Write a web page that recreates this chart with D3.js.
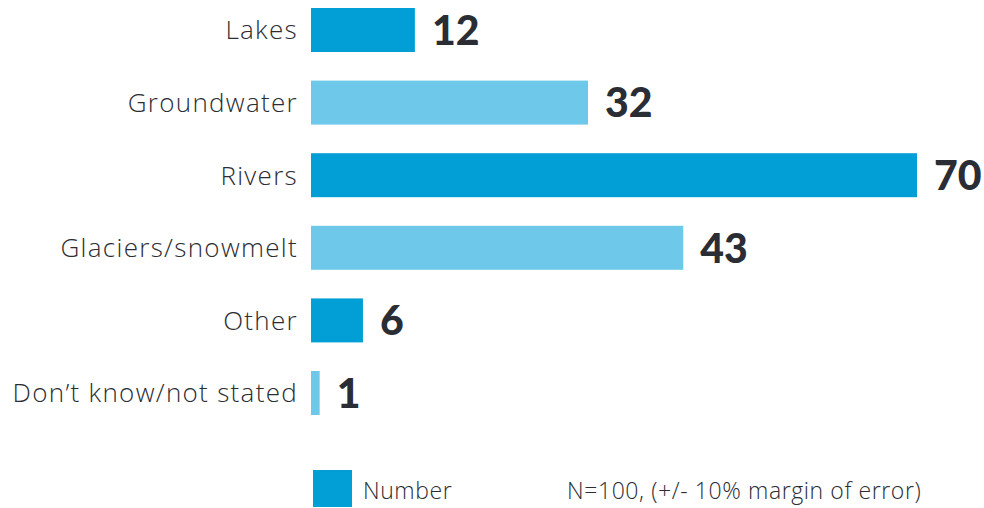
<!doctype html>
<html lang="en">
  <head>
    <meta charset="utf-8">
    <title>Water sources</title>
    <script src="https://d3js.org/d3.v7.min.js"></script>
    <style>
      body { margin: 0; background: #fff; }
      .label { font-family: 'Open Sans', sans-serif; font-weight: 300; font-size: 26px; letter-spacing: 1.3px; fill: #2b2d33; }
      .value { font-family: 'Lato', sans-serif; font-weight: 900; font-size: 41px; fill: #2a2d33; }
      .legend { font-family: 'Open Sans', sans-serif; font-weight: 300; font-size: 23px; letter-spacing: 0.6px; fill: #2b2d33; }
    </style>
  </head>
  <body>
    <div id="chart"></div>
  <script>
    const categories = ['Lakes', 'Groundwater', 'Rivers', 'Glaciers/snowmelt', 'Other', 'Don\u2019t know/not stated'];
    const values = [12, 32, 70, 43, 6, 1];
    const legendLabel = 'Number';
    const note = 'N=100, (+/- 10% margin of error)';

    const w = 984, h = 508;
    const dark = '#029fd7', light = '#6dc8ea';

    const svg = d3.select('#chart')
      .append('svg')
      .attr('width', w)
      .attr('height', h);

    const x = d3.scaleLinear()
      .domain([0, 70])
      .range([311, 917]);

    const y = d3.scaleBand()
      .domain(categories)
      .range([8, 415])
      .paddingInner(0.394)
      .paddingOuter(0);

    const data = categories.map((c, i) => ({ cat: c, val: values[i], i: i }));

    svg.selectAll('rect.bar')
      .data(data)
      .enter().append('rect')
      .attr('class', 'bar')
      .attr('x', x(0))
      .attr('y', d => y(d.cat))
      .attr('width', d => x(d.val) - x(0))
      .attr('height', y.bandwidth())
      .attr('fill', d => d.i % 2 === 0 ? dark : light);

    // category labels (letter-spacing adds a trailing gap, so nudge right)
    svg.selectAll('text.label')
      .data(data)
      .enter().append('text')
      .attr('class', 'label')
      .attr('x', x(0) - 13)
      .attr('y', d => y(d.cat) + y.bandwidth() / 2)
      .attr('dy', '0.36em')
      .attr('text-anchor', 'end')
      .text(d => d.cat);

    // value labels
    svg.selectAll('text.value')
      .data(data)
      .enter().append('text')
      .attr('class', 'value')
      .attr('x', d => x(d.val) + 17)
      .attr('y', d => y(d.cat) + y.bandwidth() / 2)
      .attr('dy', '0.36em')
      .text(d => d.val);

    // legend
    const lg = svg.append('g');
    lg.append('rect')
      .attr('x', 313).attr('y', 470)
      .attr('width', 39).attr('height', 37)
      .attr('fill', dark);
    lg.append('text')
      .attr('class', 'legend')
      .attr('x', 363).attr('y', 499)
      .text(legendLabel);
    lg.append('text')
      .attr('class', 'legend')
      .attr('x', 567).attr('y', 499)
      .text(note);
  </script>
  </body>
</html>
